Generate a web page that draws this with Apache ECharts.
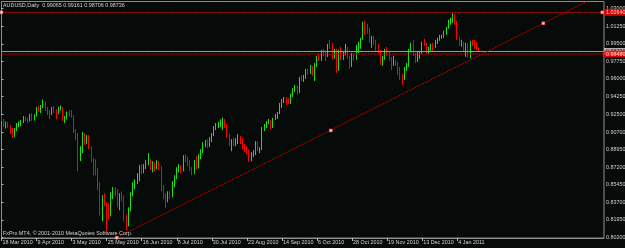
<!DOCTYPE html>
<html><head><meta charset="utf-8">
<script src="https://cdn.jsdelivr.net/npm/echarts@6/dist/echarts.min.js"></script>
<style>html,body{margin:0;padding:0;background:#060a08;}#c{width:625px;height:248px;}</style>
</head><body><div id="c"></div>
<script>
// ---------- data ----------
const symbolName = 'AUDUSD,Daily';
const footerText = 'FxPro MT4, \u00a9 2001-2010 MetaQuotes Software Corp.';
const firstDay = [2010, 2, 18]; // 18 Mar 2010, daily weekday bars
const slotCount = 276;          // bar slots visible across the chart width
const opens = [
.9215,.9190,.9140,.9160,.9130,.9070,.9040,.9100,.9145,.9150,
.9170,.9215,.9195,.9185,.9240,.9200,.9235,.9310,.9300,.9325,
.9360,.9300,.9270,.9250,.9305,.9280,.9260,.9300,.9310,.9200,
.9215,.9260,.9240,.9230,.9080,.9040,.8860,.8870,.9050,.8970,
.9030,.8920,.8790,.8690,.8660,.8540,.8260,.8420,.8360,.8270,
.8240,.8450,.8500,.8470,.8360,.8440,.8420,.8220,.8170,.8300,
.8450,.8550,.8570,.8620,.8730,.8700,.8730,.8770,.8780,.8710,
.8750,.8720,.8760,.8720,.8500,.8420,.8390,.8450,.8440,.8550,
.8620,.8700,.8720,.8690,.8820,.8800,.8770,.8700,.8670,.8770,
.8720,.8830,.8880,.8960,.8970,.8930,.9000,.9040,.9120,.9130,
.9150,.9160,.9170,.9130,.9040,.8960,.8970,.8960,.8970,.9020,
.8990,.8920,.8900,.8880,.8810,.8850,.8860,.8960,.8890,.8900,
.9110,.9140,.9160,.9180,.9120,.9200,.9230,.9260,.9350,.9390,
.9400,.9370,.9360,.9440,.9500,.9520,.9470,.9610,.9600,.9620,
.9680,.9670,.9720,.9680,.9740,.9820,.9810,.9870,.9850,.9830,
.9930,.9920,.9840,.9880,.9700,.9870,.9820,.9850,.9890,.9810,
.9750,.9840,.9800,.9930,.9940,1.0000,1.0130,1.0100,1.0070,.9980,
1.0010,.9960,.9900,.9880,.9780,.9800,.9880,.9850,.9800,.9760,
.9770,.9760,.9680,.9610,.9600,.9700,.9740,.9890,.9950,.9850,
.9790,.9850,.9860,.9960,.9940,.9890,.9900,.9930,.9920,.9980,
1.0000,1.0020,1.0025,1.0070,1.0110,1.0180,1.0190,1.0230,1.0170,1.0000,
.9940,.9950,.9900,.9940,.9850,.9960,.9950,.9940,.99065];
const closes = [
.9190,.9140,.9160,.9130,.9070,.9040,.9100,.9145,.9150,.9170,
.9215,.9195,.9185,.9240,.9200,.9235,.9310,.9300,.9325,.9360,
.9300,.9270,.9250,.9305,.9280,.9260,.9300,.9310,.9200,.9215,
.9260,.9240,.9230,.9080,.9040,.8860,.8870,.9050,.8970,.9030,
.8920,.8790,.8690,.8660,.8540,.8260,.8420,.8360,.8270,.8240,
.8450,.8500,.8470,.8360,.8440,.8420,.8220,.8170,.8300,.8450,
.8550,.8570,.8620,.8730,.8700,.8730,.8770,.8780,.8710,.8750,
.8720,.8760,.8720,.8500,.8420,.8390,.8450,.8440,.8550,.8620,
.8700,.8720,.8690,.8820,.8800,.8770,.8700,.8670,.8770,.8720,
.8830,.8880,.8960,.8970,.8930,.9000,.9040,.9120,.9130,.9150,
.9160,.9170,.9130,.9040,.8960,.8970,.8960,.8970,.9020,.8990,
.8920,.8900,.8880,.8810,.8850,.8860,.8960,.8890,.8900,.9110,
.9140,.9160,.9180,.9120,.9200,.9230,.9260,.9350,.9390,.9400,
.9370,.9360,.9440,.9500,.9520,.9470,.9610,.9600,.9620,.9680,
.9670,.9720,.9680,.9740,.9820,.9810,.9870,.9850,.9830,.9930,
.9920,.9840,.9880,.9700,.9870,.9820,.9850,.9890,.9810,.9750,
.9840,.9800,.9930,.9940,1.0000,1.0130,1.0100,1.0070,.9980,1.0010,
.9960,.9900,.9880,.9780,.9800,.9880,.9850,.9800,.9760,.9770,
.9760,.9680,.9610,.9600,.9700,.9740,.9890,.9950,.9850,.9790,
.9850,.9860,.9960,.9940,.9890,.9900,.9930,.9920,.9980,1.0000,
1.0020,1.0025,1.0070,1.0110,1.0180,1.0190,1.0230,1.0170,1.0000,.9940,
.9950,.9900,.9940,.9850,.9960,.9950,.9940,.99065,.98736];
const lows = [
.9180,.9120,.9105,.9110,.9050,.9010,.9020,.9080,.9120,.9130,
.9160,.9180,.9160,.9175,.9180,.9185,.9225,.9270,.9260,.9310,
.9280,.9240,.9200,.9240,.9260,.9200,.9250,.9285,.9180,.9160,
.9195,.9225,.9210,.9060,.8990,.8680,.8780,.8860,.8940,.8950,
.8900,.8770,.8640,.8640,.8490,.8240,.8180,.8330,.8067,.8200,
.8230,.8400,.8430,.8320,.8290,.8380,.8180,.8087,.8130,.8280,
.8430,.8500,.8550,.8580,.8650,.8660,.8700,.8740,.8690,.8670,
.8680,.8700,.8690,.8480,.8400,.8316,.8370,.8400,.8420,.8520,
.8600,.8670,.8660,.8680,.8770,.8730,.8680,.8640,.8650,.8700,
.8710,.8800,.8860,.8920,.8910,.8920,.8970,.9030,.9090,.9110,
.9120,.9090,.9110,.9010,.8930,.8880,.8930,.8930,.8950,.8950,
.8900,.8870,.8850,.8771,.8780,.8820,.8840,.8880,.8860,.8890,
.9080,.9110,.9150,.9100,.9110,.9190,.9200,.9250,.9310,.9360,
.9340,.9350,.9350,.9420,.9470,.9440,.9460,.9580,.9570,.9600,
.9640,.9650,.9630,.9580,.9720,.9780,.9780,.9830,.9780,.9820,
.9900,.9790,.9800,.9660,.9680,.9790,.9790,.9840,.9800,.9700,
.9720,.9780,.9790,.9860,.9900,.9990,1.0040,1.0050,.9960,.9910,
.9940,.9880,.9860,.9740,.9730,.9790,.9830,.9780,.9690,.9730,
.9730,.9640,.9590,.9542,.9590,.9680,.9720,.9870,.9830,.9760,
.9770,.9800,.9850,.9930,.9850,.9850,.9880,.9880,.9910,.9950,
.9980,1.0000,1.0010,1.0040,1.0100,1.0140,1.0160,1.0140,.9990,.9930,
.9920,.9870,.9820,.9810,.9805,.9930,.9900,.9890,.98706];
const highs = [
.9235,.9200,.9175,.9170,.9140,.9110,.9110,.9160,.9175,.9190,
.9230,.9225,.9215,.9250,.9260,.9245,.9320,.9335,.9340,.9395,
.9375,.9320,.9290,.9320,.9330,.9295,.9320,.9335,.9320,.9230,
.9275,.9290,.9290,.9240,.9100,.9060,.8930,.9070,.9060,.9040,
.9040,.8930,.8810,.8800,.8710,.8570,.8440,.8460,.8370,.8360,
.8470,.8520,.8520,.8500,.8460,.8480,.8440,.8250,.8320,.8470,
.8570,.8600,.8660,.8740,.8750,.8750,.8790,.8860,.8800,.8780,
.8770,.8790,.8780,.8730,.8540,.8460,.8480,.8480,.8580,.8640,
.8720,.8750,.8740,.8840,.8850,.8830,.8790,.8720,.8790,.8830,
.8850,.8900,.8970,.8990,.9000,.9020,.9060,.9130,.9160,.9170,
.9197,.9215,.9200,.9150,.9050,.9000,.9010,.9010,.9050,.9030,
.9010,.8950,.8930,.8900,.8870,.8890,.8980,.8980,.8920,.9120,
.9150,.9180,.9200,.9190,.9210,.9250,.9270,.9360,.9400,.9420,
.9420,.9410,.9450,.9510,.9540,.9530,.9620,.9640,.9640,.9700,
.9700,.9740,.9730,.9760,.9830,.9850,.9890,.9900,.9880,.9950,
.9990,.9960,.9900,.9900,.9890,.9920,.9870,.9950,.9920,.9830,
.9860,.9860,.9940,.9970,1.0010,1.0170,1.0180,1.0150,1.0110,1.0030,
1.0030,.9990,.9950,.9890,.9830,.9900,.9920,.9880,.9820,.9830,
.9790,.9770,.9720,.9650,.9720,.9760,.9900,.9960,.9990,.9860,
.9870,.9880,.9970,1.0000,.9960,.9920,.9950,.9960,.9990,1.0010,
1.0040,1.0040,1.0080,1.0120,1.0190,1.0210,1.0255,1.0250,1.0180,1.0020,
.9990,.9970,.9960,.9960,.9980,.9990,.9990,.9970,.99161];
const yTickValues = [0.802,0.8195,0.837,0.8545,0.872,0.8895,0.907,0.925,0.9425,0.96,0.9775,0.995,1.0125,1.03];
const xLabelEvery = 16;
const hLineLevels = [1.0264, 0.9848];          // red horizontal lines
const bidPrice = closes[closes.length - 1];     // grey bid line
const trendAnchors = [[52.6, 0.8017], [150.3, 0.9086], [247.3, 1.0155]];
const trendRayEnd = [267.1, 1.0372];
const hLineAnchorSlots = [0, 274.2];
const yMin = 0.8014, yMax = 1.0372;

// ---------- build ----------
const monthNames = ['Jan','Feb','Mar','Apr','May','Jun','Jul','Aug','Sep','Oct','Nov','Dec'];
const categories = [];
{
  const d = new Date(Date.UTC(firstDay[0], firstDay[1], firstDay[2]));
  while (categories.length < opens.length) {
    const wd = d.getUTCDay();
    if (wd !== 0 && wd !== 6) categories.push(d.getUTCDate() + ' ' + monthNames[d.getUTCMonth()] + ' ' + d.getUTCFullYear());
    d.setUTCDate(d.getUTCDate() + 1);
  }
  while (categories.length < slotCount) categories.push('slot' + categories.length);
}
const candleData = opens.map((o, i) => [o, closes[i], lows[i], highs[i]]);
const last = opens.length - 1;
const titleText = symbolName + '  ' + [opens[last], highs[last], lows[last], closes[last]].map(v => v.toFixed(5)).join(' ');
const showLabel = (idx) => idx % xLabelEvery === 0 && idx < opens.length;

const FONT = 'Liberation Sans';
const FS = 5.4;
const GRAY = '#8e8e8e';
const TXT = '#d4d4d4';

const series = [
  {
    type: 'candlestick', xAxisIndex: 0, yAxisIndex: 0, data: candleData,
    barWidth: 1.3, z: 2, silent: true,
    itemStyle: { color: '#19e019', color0: '#ff0000', borderColor: '#19e019', borderColor0: '#ff0000', borderWidth: 1 }
  },
  {
    type: 'line', xAxisIndex: 1, yAxisIndex: 0, symbol: 'none', silent: true, z: 4,
    data: [[0, bidPrice], [slotCount - 1, bidPrice]],
    lineStyle: { color: '#9c9c9c', width: 1 }
  }
];
hLineLevels.forEach(lv => series.push({
  type: 'line', xAxisIndex: 1, yAxisIndex: 0, symbol: 'none', silent: true, z: 5,
  data: [[0, lv], [slotCount - 1, lv]],
  lineStyle: { color: '#e00000', width: 1, type: [2, 1] }
}));
series.push({
  type: 'line', xAxisIndex: 1, yAxisIndex: 0, symbol: 'none', silent: true, z: 5,
  data: [trendAnchors[0], trendRayEnd],
  lineStyle: { color: '#c40000', width: 1, type: [2, 1] }
});
series.push({
  type: 'scatter', xAxisIndex: 1, yAxisIndex: 0, silent: true, z: 6, clip: false,
  symbol: 'rect', symbolSize: 3,
  data: trendAnchors.concat(hLineAnchorSlots.map(s => [s, hLineLevels[0]])),
  itemStyle: { color: '#ffffff', borderColor: '#ff3030', borderWidth: 0.6 }
});
// price tags at the right edge
series.push({
  type: 'scatter', xAxisIndex: 1, yAxisIndex: 0, silent: true, z: 7, clip: false,
  symbolSize: 0, data: [[slotCount - 1, bidPrice]],
  label: { show: true, position: 'right', distance: 0, formatter: p => p.value[1].toFixed(5),
    backgroundColor: '#d8d8d8', color: '#000000', fontSize: FS, fontFamily: FONT, padding: [1, 1, 1, 2] }
});
series.push({
  type: 'scatter', xAxisIndex: 1, yAxisIndex: 0, silent: true, z: 8, clip: false,
  symbolSize: 0, data: hLineLevels.map(lv => [slotCount - 1, lv]),
  label: { show: true, position: 'right', distance: 0, formatter: p => p.value[1].toFixed(5),
    backgroundColor: '#ff0000', color: '#ffffff', fontSize: FS, fontFamily: FONT, padding: [1, 1, 1, 2] }
});

const option = {
  backgroundColor: '#060a08',
  animation: false,
  textStyle: { fontFamily: FONT },
  title: [
    { text: titleText, left: 3, top: 3, padding: 0,
      textStyle: { color: TXT, fontSize: FS, fontWeight: 'normal', fontFamily: FONT } },
    { text: footerText, left: 3, top: 231, padding: 0,
      textStyle: { color: TXT, fontSize: FS, fontWeight: 'normal', fontFamily: FONT } }
  ],
  grid: { left: 1.5, top: 1.5, right: 21, bottom: 10, show: true, borderColor: GRAY, borderWidth: 1,
    containLabel: false, outerBoundsMode: 'none' },
  xAxis: [
    {
      type: 'category', data: categories, boundaryGap: false,
      axisLine: { show: true, lineStyle: { color: GRAY, width: 1 } },
      axisTick: { show: true, interval: showLabel, length: 3, lineStyle: { color: '#b8b8b8' } },
      axisLabel: { show: true, interval: showLabel, align: 'left', color: TXT, fontSize: FS, fontFamily: FONT, margin: 2.3, padding: [0, 0, 0, 1] },
      splitLine: { show: false }
    },
    { type: 'value', min: 0, max: slotCount - 1, show: false }
  ],
  yAxis: [{
    type: 'value', position: 'right', min: yMin, max: yMax,
    axisLine: { show: true, lineStyle: { color: GRAY, width: 1 } },
    axisTick: { show: true, length: 2, customValues: yTickValues, lineStyle: { color: '#b8b8b8' } },
    axisLabel: { show: true, customValues: yTickValues, formatter: v => v.toFixed(5), color: TXT, fontSize: FS, fontFamily: FONT, margin: 2 },
    splitLine: { show: false }
  }],
  series: series
};
const chart = echarts.init(document.getElementById('c'), null, { renderer: 'canvas' });
chart.setOption(option);
</script></body></html>
